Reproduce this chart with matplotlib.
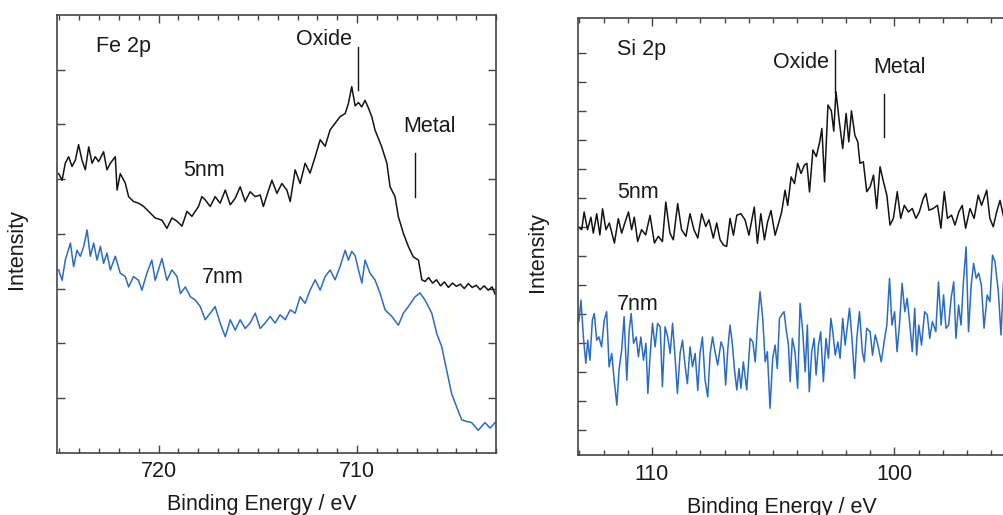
import matplotlib
matplotlib.use("Agg")
import matplotlib.pyplot as plt
from matplotlib.ticker import MultipleLocator, NullFormatter

plt.rcParams["font.family"] = ["Liberation Sans", "DejaVu Sans"]
plt.rcParams["font.size"] = 15.5

# Fe 2p, 5 nm film (binding energy in eV, intensity in arbitrary tick units)
fe_5nm_ev = [
    725.03, 724.86, 724.70, 724.53, 724.36, 724.19, 724.03, 723.86, 723.69, 723.52,
    723.35, 723.19, 723.02, 722.77, 722.60, 722.43, 722.18, 722.09, 721.93, 721.68,
    721.51, 721.26, 721.01, 720.75, 720.50, 720.17, 719.83, 719.58, 719.33, 719.07,
    718.82, 718.57, 718.32, 717.99, 717.82, 717.65, 717.40, 717.15, 716.90, 716.64,
    716.39, 716.14, 715.89, 715.64, 715.39, 715.13, 714.88, 714.72, 714.46, 714.29,
    714.04, 713.79, 713.54, 713.37, 713.12, 712.87, 712.62, 712.37, 712.11, 711.86,
    711.61, 711.36, 711.11, 710.86, 710.60, 710.44, 710.27, 710.10, 709.93, 709.77,
    709.60, 709.43, 709.26, 709.10, 708.76, 708.50, 708.34, 708.09, 707.92, 707.67,
    707.42, 707.17, 706.91, 706.74, 706.58, 706.40, 706.20, 706.00, 705.80, 705.60,
    705.40, 705.20, 705.00, 704.80, 704.60, 704.40, 704.20, 704.00, 703.80, 703.60,
    703.40, 703.20, 703.05,
]
fe_5nm_int = [
    5.10, 4.98, 5.29, 5.41, 5.23, 5.35, 5.63, 5.35, 5.17, 5.59,
    5.29, 5.41, 5.32, 5.50, 5.17, 5.29, 5.41, 4.80, 5.10, 4.93,
    4.68, 4.59, 4.56, 4.50, 4.41, 4.29, 4.25, 4.10, 4.29, 4.23,
    4.14, 4.41, 4.32, 4.50, 4.68, 4.62, 4.50, 4.68, 4.56, 4.80,
    4.53, 4.65, 4.86, 4.59, 4.77, 4.68, 4.71, 4.50, 4.80, 4.98,
    4.74, 4.92, 4.80, 4.59, 5.17, 4.92, 5.29, 5.11, 5.41, 5.72,
    5.60, 5.90, 6.02, 6.14, 6.20, 6.38, 6.69, 6.34, 6.40, 6.32,
    6.44, 6.30, 6.14, 5.90, 5.59, 5.29, 4.86, 4.68, 4.31, 4.01,
    3.77, 3.58, 3.52, 3.16, 3.13, 3.20, 3.10, 3.16, 3.05, 3.12,
    3.02, 3.10, 3.04, 3.08, 3.00, 3.09, 3.02, 3.06, 2.98, 3.05,
    2.97, 3.03, 2.90,
]

# Fe 2p, 7 nm film
fe_7nm_ev = [
    725.03, 724.86, 724.70, 724.44, 724.28, 724.11, 723.94, 723.77, 723.60, 723.44,
    723.27, 723.10, 722.93, 722.77, 722.60, 722.43, 722.18, 721.93, 721.68, 721.51,
    721.26, 721.01, 720.84, 720.59, 720.34, 720.17, 719.83, 719.58, 719.33, 719.07,
    718.90, 718.65, 718.40, 718.15, 717.90, 717.65, 717.40, 717.15, 716.90, 716.64,
    716.39, 716.14, 715.89, 715.64, 715.39, 715.13, 714.88, 714.63, 714.38, 714.13,
    713.88, 713.62, 713.37, 713.12, 712.87, 712.62, 712.37, 712.11, 711.86, 711.61,
    711.36, 711.11, 710.86, 710.60, 710.44, 710.27, 710.10, 709.93, 709.76, 709.60,
    709.35, 709.10, 708.84, 708.59, 708.25, 707.92, 707.67, 707.42, 707.08, 706.83,
    706.58, 706.24, 705.99, 705.74, 705.49, 705.24, 704.99, 704.73, 704.48, 704.23,
    703.90, 703.56, 703.30, 703.05,
]
fe_7nm_int = [
    3.34, 3.15, 3.52, 3.83, 3.40, 3.70, 3.59, 3.77, 4.07, 3.59,
    3.83, 3.52, 3.77, 3.46, 3.65, 3.34, 3.59, 3.28, 3.22, 3.03,
    3.22, 3.15, 2.97, 3.28, 3.52, 3.15, 3.55, 3.15, 3.34, 3.22,
    2.91, 3.03, 2.85, 2.79, 2.67, 2.43, 2.55, 2.67, 2.37, 2.12,
    2.43, 2.24, 2.43, 2.27, 2.37, 2.55, 2.27, 2.37, 2.49, 2.37,
    2.52, 2.43, 2.61, 2.55, 2.85, 2.73, 2.97, 3.16, 2.97, 3.22,
    3.34, 3.16, 3.40, 3.70, 3.52, 3.68, 3.60, 3.34, 3.10, 3.52,
    3.28, 3.16, 2.91, 2.61, 2.49, 2.33, 2.55, 2.67, 2.85, 2.92,
    2.79, 2.55, 2.18, 1.94, 1.51, 1.08, 0.84, 0.60, 0.57, 0.55,
    0.41, 0.55, 0.45, 0.55,
]

# Si 2p, 5 nm film
si_5nm_ev = [
    113.04, 112.90, 112.80, 112.66, 112.52, 112.42, 112.28, 112.15, 112.04, 111.90,
    111.76, 111.55, 111.39, 111.25, 111.11, 110.97, 110.84, 110.73, 110.59, 110.43,
    110.26, 110.08, 109.90, 109.74, 109.57, 109.43, 109.26, 109.12, 108.94, 108.78,
    108.60, 108.43, 108.27, 108.11, 107.95, 107.78, 107.65, 107.47, 107.33, 107.19,
    107.05, 106.92, 106.78, 106.64, 106.50, 106.33, 106.16, 106.00, 105.78, 105.65,
    105.51, 105.36, 105.23, 105.09, 104.92, 104.78, 104.65, 104.51, 104.40, 104.26,
    104.12, 103.99, 103.85, 103.71, 103.61, 103.50, 103.36, 103.22, 103.08, 102.99,
    102.88, 102.74, 102.60, 102.50, 102.41, 102.27, 102.13, 101.99, 101.88, 101.77,
    101.63, 101.51, 101.42, 101.28, 101.14, 101.00, 100.86, 100.73, 100.59, 100.45,
    100.31, 100.18, 100.04, 99.88, 99.74, 99.59, 99.42, 99.26, 99.11, 98.97,
    98.81, 98.70, 98.57, 98.40, 98.22, 98.08, 97.94, 97.81, 97.64, 97.50,
    97.34, 97.20, 97.06, 96.88, 96.71, 96.54, 96.40, 96.19, 96.06, 95.92,
    95.78, 95.64, 95.48,
]
si_5nm_int = [
    7.00, 6.90, 7.51, 6.90, 7.33, 6.78, 7.45, 6.72, 7.62, 6.90,
    7.13, 6.44, 7.28, 6.78, 7.16, 7.51, 6.90, 7.33, 6.49, 6.90,
    6.72, 7.39, 6.44, 6.67, 6.49, 7.85, 6.78, 6.55, 7.80, 6.90,
    6.67, 7.45, 6.90, 6.61, 7.45, 7.01, 7.24, 6.61, 7.13, 6.55,
    6.37, 6.32, 7.29, 6.71, 7.40, 7.45, 7.24, 6.71, 7.68, 6.43,
    7.45, 6.55, 7.17, 7.56, 6.71, 7.11, 7.51, 8.26, 7.74, 8.72,
    8.49, 9.19, 8.84, 9.13, 9.19, 8.20, 9.65, 9.42, 9.93, 10.39,
    8.55, 11.20, 11.00, 10.30, 11.66, 10.62, 9.70, 10.91, 9.93, 11.00,
    10.16, 9.93, 9.19, 9.24, 8.21, 8.38, 8.78, 7.63, 9.07, 8.55,
    8.09, 7.06, 7.29, 8.21, 7.29, 7.74, 7.51, 7.63, 7.29, 7.51,
    7.97, 8.15, 7.57, 7.63, 7.74, 6.95, 8.21, 7.29, 7.40, 7.06,
    7.51, 7.74, 6.95, 7.63, 7.29, 8.09, 7.74, 8.26, 7.29, 7.00,
    7.51, 7.91, 7.29,
]

# Si 2p, 7 nm film
si_7nm_ev = [
    113.11, 113.01, 112.93, 112.83, 112.73, 112.65, 112.56, 112.46, 112.38, 112.28,
    112.19, 112.08, 111.97, 111.87, 111.77, 111.66, 111.56, 111.45, 111.36, 111.25,
    111.15, 111.04, 110.94, 110.86, 110.76, 110.65, 110.56, 110.46, 110.35, 110.25,
    110.17, 110.08, 109.98, 109.87, 109.77, 109.66, 109.57, 109.46, 109.35, 109.25,
    109.15, 109.05, 108.95, 108.84, 108.74, 108.63, 108.54, 108.43, 108.33, 108.22,
    108.11, 108.02, 107.92, 107.81, 107.70, 107.60, 107.50, 107.40, 107.29, 107.15,
    107.05, 106.96, 106.87, 106.78, 106.68, 106.60, 106.50, 106.41, 106.33, 106.23,
    106.09, 105.95, 105.84, 105.74, 105.65, 105.54, 105.43, 105.33, 105.24, 105.13,
    105.02, 104.92, 104.83, 104.74, 104.65, 104.55, 104.47, 104.37, 104.30, 104.21,
    104.10, 103.99, 103.89, 103.78, 103.68, 103.59, 103.51, 103.41, 103.31, 103.23,
    103.13, 103.04, 102.93, 102.82, 102.72, 102.62, 102.54, 102.44, 102.33, 102.24,
    102.13, 102.03, 101.93, 101.85, 101.75, 101.64, 101.55, 101.44, 101.32, 101.24,
    101.14, 101.00, 100.90, 100.79, 100.68, 100.54, 100.40, 100.31, 100.20, 100.10,
    99.99, 99.89, 99.79, 99.68, 99.57, 99.47, 99.36, 99.26, 99.16, 99.08,
    98.99, 98.88, 98.75, 98.64, 98.54, 98.43, 98.29, 98.18, 98.07, 97.97,
    97.87, 97.76, 97.66, 97.55, 97.46, 97.35, 97.25, 97.15, 97.04, 96.94,
    96.83, 96.73, 96.62, 96.52, 96.41, 96.30, 96.17, 96.06, 95.95, 95.85,
    95.71, 95.60, 95.50, 95.40,
]
si_7nm_int = [
    3.55, 3.78, 4.47, 3.20, 2.29, 3.09, 2.40, 3.78, 4.01, 3.09,
    3.20, 2.86, 3.78, 4.07, 2.17, 2.63, 1.71, 0.85, 2.06, 2.75,
    3.90, 1.71, 3.44, 4.01, 2.98, 3.20, 2.52, 3.20, 2.40, 2.98,
    1.25, 2.52, 3.67, 2.86, 3.67, 3.55, 1.48, 3.55, 3.20, 2.63,
    3.67, 2.52, 1.25, 2.63, 3.09, 2.17, 1.59, 2.86, 2.17, 2.63,
    1.36, 2.63, 3.20, 1.71, 1.13, 2.63, 3.20, 2.69, 2.23, 3.03,
    2.80, 1.54, 2.80, 3.61, 2.92, 2.11, 1.37, 2.11, 1.43, 2.34,
    1.37, 3.15, 3.03, 2.34, 3.61, 4.76, 3.84, 2.34, 2.69, 0.74,
    2.46, 2.92, 2.11, 3.84, 3.96, 4.07, 3.50, 2.92, 1.66, 3.15,
    2.69, 1.43, 4.36, 3.38, 2.00, 3.61, 1.31, 2.69, 3.15, 1.89,
    2.92, 3.38, 1.66, 3.15, 2.46, 3.84, 3.38, 2.57, 3.03, 2.46,
    3.84, 2.92, 3.61, 4.19, 3.15, 1.77, 3.15, 4.07, 2.69, 2.34,
    3.50, 3.38, 2.57, 3.27, 2.92, 2.34, 3.15, 3.61, 5.22, 3.61,
    4.07, 2.69, 3.61, 5.05, 4.07, 4.53, 3.61, 2.69, 4.19, 2.57,
    3.61, 2.92, 4.07, 3.96, 3.15, 3.73, 3.38, 5.10, 3.61, 4.65,
    3.50, 3.61, 4.53, 5.10, 3.15, 4.30, 3.61, 5.10, 6.31, 3.38,
    4.99, 5.74, 5.22, 5.40, 4.99, 3.50, 4.65, 4.42, 6.02, 5.80,
    4.76, 3.27, 5.10, 5.10,
]

BLACK = "#141414"
BLUE = "#2a6cc4"
SPINE = "#444444"
TEXT = "#1a1a1a"

fig = plt.figure(figsize=(10.04, 5.15), dpi=100)
ax_fe = fig.add_axes([0.0571, 0.1210, 0.4370, 0.8499])
ax_si = fig.add_axes([0.5760, 0.1159, 0.4355, 0.8485])


def style_axes(ax, xmin, xmax, ymin, ymax, yticks):
    ax.set_xlim(xmin, xmax)
    ax.set_ylim(ymin, ymax)
    ax.xaxis.set_major_locator(MultipleLocator(10))
    ax.xaxis.set_minor_locator(MultipleLocator(1))
    ax.set_yticks(yticks)
    ax.yaxis.set_major_formatter(NullFormatter())
    ax.tick_params(which="both", direction="in", top=True, right=True,
                   color=SPINE, width=1.0, labelcolor=TEXT)
    ax.tick_params(which="major", length=5.5, pad=6)
    ax.tick_params(which="minor", length=3.5)
    for sp in ax.spines.values():
        sp.set_color(SPINE)
        sp.set_linewidth(1.2)
    ax.set_xlabel("Binding Energy / eV", color=TEXT)
    ax.set_ylabel("Intensity", color=TEXT)
    ax.xaxis.set_label_coords(0.466, -0.095)
    ax.yaxis.set_label_coords(-0.068, 0.466)


# Fe 2p panel
ax_fe.plot(fe_5nm_ev, fe_5nm_int, color=BLACK, lw=1.1)
ax_fe.plot(fe_7nm_ev, fe_7nm_int, color=BLUE, lw=1.1)
style_axes(ax_fe, 725.1, 703.0, 0, 8, range(1, 8))
ax_fe.text(0.088, 0.929, "Fe 2p", transform=ax_fe.transAxes, va="center", color=TEXT)
ax_fe.text(0.544, 0.944, "Oxide", transform=ax_fe.transAxes, va="center", color=TEXT)
ax_fe.text(0.789, 0.745, "Metal", transform=ax_fe.transAxes, va="center", color=TEXT)
ax_fe.text(0.286, 0.644, "5nm", transform=ax_fe.transAxes, va="center", color=TEXT)
ax_fe.text(0.329, 0.401, "7nm", transform=ax_fe.transAxes, va="center", color=TEXT)
ax_fe.plot([709.93, 709.93], [7.42, 6.63], color=BLACK, lw=1.0)
ax_fe.plot([707.1, 707.1], [5.48, 4.68], color=BLACK, lw=1.0)

# Si 2p panel
ax_si.plot(si_5nm_ev, si_5nm_int, color=BLACK, lw=1.1)
ax_si.plot(si_7nm_ev, si_7nm_int, color=BLUE, lw=1.1)
style_axes(ax_si, 113.04, 95.0, -0.883, 14.19, range(0, 14))
ax_si.yaxis.set_label_coords(-0.069, 0.466)
ax_si.text(0.088, 0.929, "Si 2p", transform=ax_si.transAxes, va="center", color=TEXT)
ax_si.text(0.446, 0.900, "Oxide", transform=ax_si.transAxes, va="center", color=TEXT)
ax_si.text(0.675, 0.888, "Metal", transform=ax_si.transAxes, va="center", color=TEXT)
ax_si.text(0.088, 0.601, "5nm", transform=ax_si.transAxes, va="center", color=TEXT)
ax_si.text(0.088, 0.344, "7nm", transform=ax_si.transAxes, va="center", color=TEXT)
ax_si.plot([102.46, 102.46], [13.09, 11.6], color=BLACK, lw=1.0)
ax_si.plot([100.41, 100.41], [11.58, 10.1], color=BLACK, lw=1.0)

fig.savefig("out.png", dpi=100)
